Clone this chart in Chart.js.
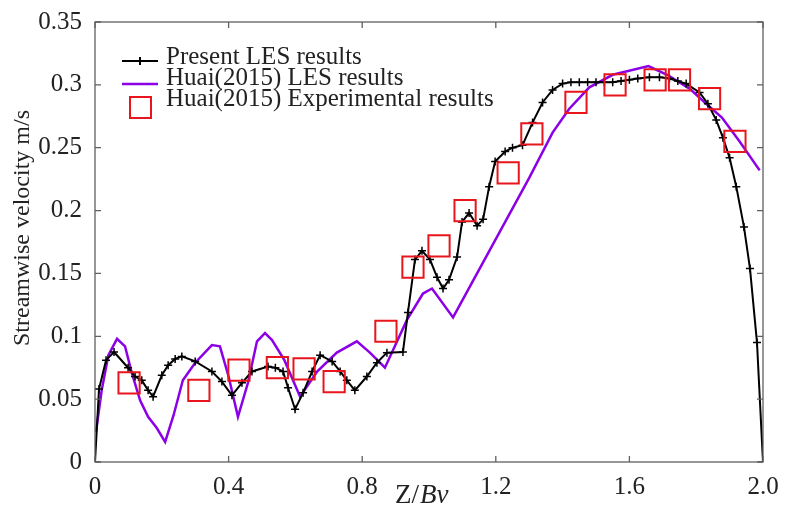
<!DOCTYPE html>
<html>
<head>
<meta charset="utf-8">
<script src="https://cdn.jsdelivr.net/npm/chart.js@4/dist/chart.umd.min.js"></script>
<style>
  html, body { margin: 0; padding: 0; background: #fff; }
  #wrap { width: 785px; height: 509px; position: relative; }
</style>
</head>
<body>
<div id="wrap"><canvas id="perfil"></canvas></div>
<script>
// Perfil transversal de velocidad longitudinal: LES propio vs. Huai (2015).

// Present LES results (Z/Bv, m/s)
const lesZ = [0, 0.012, 0.033, 0.057, 0.099, 0.12, 0.14, 0.159, 0.174, 0.2, 0.219, 0.24, 0.26,
  0.3, 0.35, 0.38, 0.41, 0.44, 0.47, 0.518, 0.54, 0.563, 0.578, 0.599, 0.623, 0.65, 0.674,
  0.71, 0.734, 0.754, 0.778, 0.814, 0.844, 0.874, 0.922, 0.937, 0.958, 0.979, 1.003, 1.024,
  1.042, 1.06, 1.084, 1.099, 1.12, 1.144, 1.162, 1.18, 1.198, 1.228, 1.25, 1.28, 1.31, 1.34,
  1.37, 1.40, 1.425, 1.45, 1.475, 1.50, 1.525, 1.55, 1.575, 1.60, 1.625, 1.66, 1.69, 1.72,
  1.745, 1.77, 1.81, 1.835, 1.86, 1.88, 1.90, 1.92, 1.943, 1.961, 1.982, 2.0];
const lesU = [0, 0.058, 0.081, 0.0875, 0.075, 0.068, 0.065, 0.057, 0.052, 0.069, 0.077, 0.082, 0.084,
  0.08, 0.072, 0.064, 0.053, 0.063, 0.072, 0.076, 0.075, 0.072, 0.059, 0.042, 0.055, 0.072, 0.085,
  0.08, 0.072, 0.065, 0.057, 0.068, 0.079, 0.087, 0.0875, 0.119, 0.161, 0.168, 0.161, 0.147,
  0.138, 0.145, 0.163, 0.191, 0.198, 0.188, 0.193, 0.219, 0.239, 0.247, 0.25, 0.252, 0.27, 0.286,
  0.296, 0.301, 0.302, 0.302, 0.302, 0.302, 0.302, 0.302, 0.303, 0.304, 0.305, 0.306, 0.306, 0.305,
  0.303, 0.301, 0.294, 0.285, 0.272, 0.258, 0.242, 0.219, 0.187, 0.154, 0.095, 0];

// Huai(2015) LES
const huaiZ = [0.003, 0.02, 0.04, 0.066, 0.09, 0.11, 0.135, 0.159, 0.185, 0.21, 0.235, 0.263, 0.3,
  0.35, 0.374, 0.40, 0.428, 0.458, 0.485, 0.509, 0.53, 0.567, 0.614, 0.665, 0.724, 0.784, 0.823,
  0.868, 0.934, 0.982, 1.009, 1.072, 1.30, 1.37, 1.42, 1.48, 1.55, 1.657, 1.713, 1.78, 1.83,
  1.877, 1.93, 1.99];
const huaiU = [0.024, 0.057, 0.085, 0.098, 0.092, 0.071, 0.049, 0.036, 0.027, 0.016, 0.037, 0.065, 0.079,
  0.093, 0.092, 0.068, 0.036, 0.063, 0.096, 0.1025, 0.097, 0.081, 0.052, 0.072, 0.087, 0.096, 0.087,
  0.075, 0.113, 0.134, 0.138, 0.115, 0.226, 0.262, 0.281, 0.298, 0.308, 0.315, 0.308, 0.297, 0.285,
  0.274, 0.255, 0.232];

// Huai(2015) experimental
const expZ = [0.102, 0.311, 0.431, 0.546, 0.626, 0.716, 0.871, 0.952, 1.03, 1.108, 1.237, 1.308,
  1.44, 1.557, 1.677, 1.75, 1.84, 1.916];
const expU = [0.063, 0.057, 0.073, 0.075, 0.074, 0.064, 0.104, 0.155, 0.172, 0.2, 0.23, 0.261,
  0.286, 0.3, 0.304, 0.304, 0.289, 0.255];

const xTicks = [0, 0.4, 0.8, 1.2, 1.6, 2.0];
const xTickLabels = ['0', '0.4', '0.8', '1.2', '1.6', '2.0'];
const yTicks = [0, 0.05, 0.1, 0.15, 0.2, 0.25, 0.3, 0.35];
const yTickLabels = ['0', '0.05', '0.1', '0.15', '0.2', '0.25', '0.3', '0.35'];

const seriesNames = ['Present LES results', 'Huai(2015) LES results', 'Huai(2015) Experimental results'];
const yTitle = 'Streamwise velocity m/s';

const SERIF = '"Liberation Serif", "DejaVu Serif", serif';
const NEGRO = '#000000', VIOLETA = '#8c00e6', ROJO = '#e8161c', MARCO = '#606060', TEXTO = '#222';

const zip = (xs, ys) => xs.map((x, i) => ({ x, y: ys[i] }));

// Marco completo con marcas hacia adentro en los cuatro lados
const marcoPlugin = {
  id: 'marco',
  afterDatasetsDraw(chart) {
    const { ctx, chartArea: a, scales: { x, y } } = chart;
    const L = 6;
    ctx.save();
    ctx.strokeStyle = MARCO;
    ctx.lineWidth = 1.3;
    ctx.strokeRect(a.left, a.top, a.right - a.left, a.bottom - a.top);
    ctx.beginPath();
    xTicks.forEach(v => {
      const px = x.getPixelForValue(v);
      ctx.moveTo(px, a.bottom); ctx.lineTo(px, a.bottom - L);
      ctx.moveTo(px, a.top); ctx.lineTo(px, a.top + L);
    });
    yTicks.forEach(v => {
      const py = y.getPixelForValue(v);
      ctx.moveTo(a.left, py); ctx.lineTo(a.left + L, py);
      ctx.moveTo(a.right, py); ctx.lineTo(a.right - L, py);
    });
    ctx.stroke();
    ctx.restore();
  }
};

// Leyenda dentro del área de trazado y títulos de ejes
const leyendaPlugin = {
  id: 'leyenda',
  afterDraw(chart) {
    const { ctx } = chart;
    const x0 = 122, x1 = 158, tx = 166;
    const bases = [64, 85, 106];
    ctx.save();
    ctx.font = '25px ' + SERIF;
    ctx.fillStyle = TEXTO;
    ctx.textBaseline = 'alphabetic';
    ctx.textAlign = 'left';
    seriesNames.forEach((t, i) => ctx.fillText(t, tx, bases[i]));

    ctx.lineWidth = 2;
    ctx.strokeStyle = NEGRO;
    ctx.beginPath();
    ctx.moveTo(x0, 61); ctx.lineTo(x1, 61);
    ctx.moveTo((x0 + x1) / 2, 57); ctx.lineTo((x0 + x1) / 2, 65);
    ctx.stroke();

    ctx.strokeStyle = VIOLETA;
    ctx.lineWidth = 2.5;
    ctx.beginPath();
    ctx.moveTo(x0, 84); ctx.lineTo(x1, 84);
    ctx.stroke();

    ctx.strokeStyle = ROJO;
    ctx.lineWidth = 2;
    ctx.strokeRect(130, 97, 21, 21);

    // título del eje x: Z/Bv con Bv en cursiva
    ctx.font = '27px ' + SERIF;
    ctx.fillText('Z/', 395, 503);
    const w = ctx.measureText('Z/').width;
    ctx.font = 'italic 27px ' + SERIF;
    ctx.fillText('Bv', 395 + w + 1, 503);

    // título del eje y
    ctx.translate(23, 228);
    ctx.rotate(-Math.PI / 2);
    ctx.font = '24px ' + SERIF;
    ctx.textAlign = 'center';
    ctx.textBaseline = 'middle';
    ctx.fillText(yTitle, 0, 0);
    ctx.restore();
  }
};

new Chart(document.getElementById('perfil'), {
  type: 'line',
  data: {
    datasets: [
      {
        label: seriesNames[2], data: zip(expZ, expU), showLine: false,
        pointStyle: 'rect', pointRadius: 15, pointBorderColor: ROJO, pointBackgroundColor: 'transparent',
        pointBorderWidth: 2, order: 0,
      },
      {
        label: seriesNames[0], data: zip(lesZ, lesU), borderColor: NEGRO, borderWidth: 2,
        pointStyle: 'cross', pointRadius: 4, pointBorderColor: NEGRO, pointBorderWidth: 1.5,
        tension: 0, order: 1,
      },
      {
        label: seriesNames[1], data: zip(huaiZ, huaiU), borderColor: VIOLETA, borderWidth: 2.5,
        pointRadius: 0, tension: 0, order: 2,
      },
    ],
  },
  options: {
    responsive: true, maintainAspectRatio: false, animation: false,
    layout: { padding: { top: 22, right: 22, left: 0, bottom: 0 } },
    plugins: { legend: { display: false }, tooltip: { enabled: false } },
    scales: {
      x: {
        type: 'linear', min: 0, max: 2.0,
        afterBuildTicks: s => { s.ticks = xTicks.map(v => ({ value: v })); },
        afterFit: s => { s.height = 47; s.paddingLeft = 0; s.paddingRight = 0; },
        grid: { display: false, drawTicks: false },
        border: { display: false },
        ticks: {
          padding: 10, color: TEXTO, font: { family: SERIF, size: 25 },
          callback: (v) => xTickLabels[xTicks.indexOf(v)],
        },
      },
      y: {
        type: 'linear', min: 0, max: 0.35,
        afterBuildTicks: s => { s.ticks = yTicks.map(v => ({ value: v })); },
        afterFit: s => { s.width = 95; s.paddingTop = 0; s.paddingBottom = 0; },
        grid: { display: false, drawTicks: false },
        border: { display: false },
        ticks: {
          padding: 13, color: TEXTO, font: { family: SERIF, size: 25 },
          callback: (v) => yTickLabels[yTicks.indexOf(v)],
        },
      },
    },
  },
  plugins: [marcoPlugin, leyendaPlugin],
});
</script>
</body>
</html>
